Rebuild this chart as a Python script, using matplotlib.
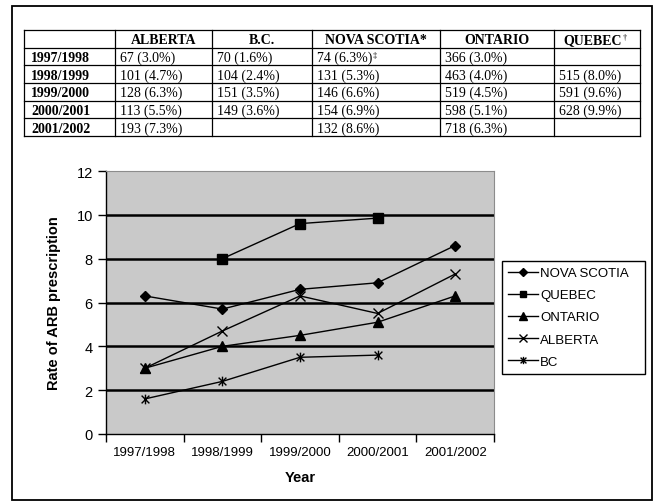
import matplotlib.pyplot as plt
from matplotlib.patches import Rectangle
from matplotlib.path import Path

# table content
years = ["1997/1998", "1998/1999", "1999/2000", "2000/2001", "2001/2002"]
provinces = ["ALBERTA", "B.C.", "NOVA SCOTIA*", "ONTARIO", "QUEBEC"]
alberta_cells = ["67 (3.0%)", "101 (4.7%)", "128 (6.3%)", "113 (5.5%)", "193 (7.3%)"]
bc_cells = ["70 (1.6%)", "104 (2.4%)", "151 (3.5%)", "149 (3.6%)", ""]
nova_scotia_cells = ["74 (6.3%)", "131 (5.3%)", "146 (6.6%)", "154 (6.9%)", "132 (8.6%)"]
ontario_cells = ["366 (3.0%)", "463 (4.0%)", "519 (4.5%)", "598 (5.1%)", "718 (6.3%)"]
quebec_cells = ["", "515 (8.0%)", "591 (9.6%)", "628 (9.9%)", ""]

# chart series (rate of ARB prescription)
nova_scotia = [6.3, 5.7, 6.6, 6.9, 8.6]
quebec = [None, 8.0, 9.6, 9.85, None]
ontario = [3.0, 4.0, 4.5, 5.1, 6.3]
alberta = [3.0, 4.7, 6.3, 5.5, 7.3]
bc = [1.6, 2.4, 3.5, 3.6, None]

W, H = 655, 502
fig = plt.figure(figsize=(W / 100, H / 100), dpi=100)

# outer frame
fig.add_artist(Rectangle((12 / W, 1 - 501 / H), 640 / W, 494 / H, transform=fig.transFigure,
                         fill=False, ec="black", lw=1.3))

# ---- table, drawn in pixel coords ----
col_edges = [24, 115, 212, 312, 440, 554, 640]
top, bottom = 31, 137
row_h = (bottom - top) / 6
tax = fig.add_axes([24 / W, 1 - bottom / H, (640 - 24) / W, (bottom - top) / H])
tax.set_xlim(24, 640)
tax.set_ylim(bottom, top)
tax.axis("off")
for i in range(7):
    tax.plot([24, 640], [top + i * row_h] * 2, color="black", lw=0.9, clip_on=False)
for x in col_edges:
    tax.plot([x, x], [top, bottom], color="black", lw=0.9, clip_on=False)

serif = "Liberation Serif"
fs = 10
for j, name in enumerate(provinces):
    cx = (col_edges[j + 1] + col_edges[j + 2]) / 2
    t = tax.text(cx - (4 if name == "QUEBEC" else 0), top + row_h * 0.55, name,
                 ha="center", va="center", fontsize=fs, fontweight="bold", family=serif)
    if name == "QUEBEC":
        tax.annotate("\u2020", xy=(1, 1), xycoords=t, ha="left", va="top",
                     fontsize=6, family=serif)

columns = [alberta_cells, bc_cells, nova_scotia_cells, ontario_cells, quebec_cells]
for i, yr in enumerate(years):
    cy = top + row_h * (i + 1.55)
    tax.text(col_edges[0] + 7, cy, yr, ha="left", va="center", fontsize=fs,
             fontweight="bold", family=serif)
    for j, col in enumerate(columns):
        if col[i]:
            t = tax.text(col_edges[j + 1] + 5, cy, col[i], ha="left", va="center",
                         fontsize=fs, family=serif)
            if j == 2 and i == 0:
                tax.annotate("\u2021", xy=(1, 1), xycoords=t, ha="left", va="top",
                             fontsize=6, family=serif)

# ---- line chart ----
ax = fig.add_axes([106 / W, 1 - 435 / H, 388 / W, 263 / H])
ax.set_facecolor("#c9c9c9")

# excel style star: an x with a vertical stroke
star = Path([(-1, -1), (1, 1), (-1, 1), (1, -1), (0, -1.25), (0, 1.25)],
            [Path.MOVETO, Path.LINETO, Path.MOVETO, Path.LINETO, Path.MOVETO, Path.LINETO])

xs = [i + 0.5 for i in range(len(years))]
series = [
    ("NOVA SCOTIA", nova_scotia, "D", 5.5),
    ("QUEBEC", quebec, "s", 6.5),
    ("ONTARIO", ontario, "^", 7),
    ("ALBERTA", alberta, "x", 7),
    ("BC", bc, star, 7),
]
for label, vals, mk, ms in series:
    px = [x for x, v in zip(xs, vals) if v is not None]
    py = [v for v in vals if v is not None]
    ax.plot(px, py, color="black", lw=1, marker=mk, markersize=ms,
            markerfacecolor="black", markeredgecolor="black", markeredgewidth=1,
            label=label, zorder=3)

ax.set_xlim(0, 5)
ax.set_ylim(0, 12)
ax.set_yticks(range(0, 13, 2))
for v in range(2, 12, 2):
    ax.axhline(v, color="black", lw=1.8, zorder=1)

ax.set_xticks(xs)
ax.set_xticklabels(years, fontsize=9.5, family="Liberation Sans")
ax.set_xticks(range(6), minor=True)
ax.tick_params(axis="x", which="major", length=0, pad=9)
ax.tick_params(axis="x", which="minor", length=6, width=1, direction="out")
ax.tick_params(axis="y", length=6, width=1, direction="out", labelsize=10.5)
for lab in ax.get_yticklabels():
    lab.set_family("Liberation Sans")

ax.spines["left"].set_color("black")
ax.spines["bottom"].set_color("black")
ax.spines["left"].set_linewidth(1)
ax.spines["bottom"].set_linewidth(1)
ax.spines["top"].set_color("#8c8c8c")
ax.spines["right"].set_color("#8c8c8c")

ax.set_ylabel("Rate of ARB prescription", fontsize=10.5, fontweight="bold",
              family="Liberation Sans")
ax.yaxis.set_label_coords(-0.115, 0.5)
ax.set_xlabel("Year", fontsize=10.5, fontweight="bold", family="Liberation Sans")
ax.xaxis.set_label_coords(0.5, -0.137)

leg = fig.legend(loc="upper left", bbox_to_anchor=(502 / W, 1 - 262 / H, 143 / W, 0),
                 mode="expand", borderaxespad=0, frameon=True, fancybox=False,
                 edgecolor="black", framealpha=1,
                 prop={"family": "Liberation Sans", "size": 9.5},
                 handlelength=2.3, handletextpad=0.15, labelspacing=0.75,
                 borderpad=0.45, markerscale=0.75)
leg.get_frame().set_linewidth(1)

fig.savefig("out.png", dpi=100)
